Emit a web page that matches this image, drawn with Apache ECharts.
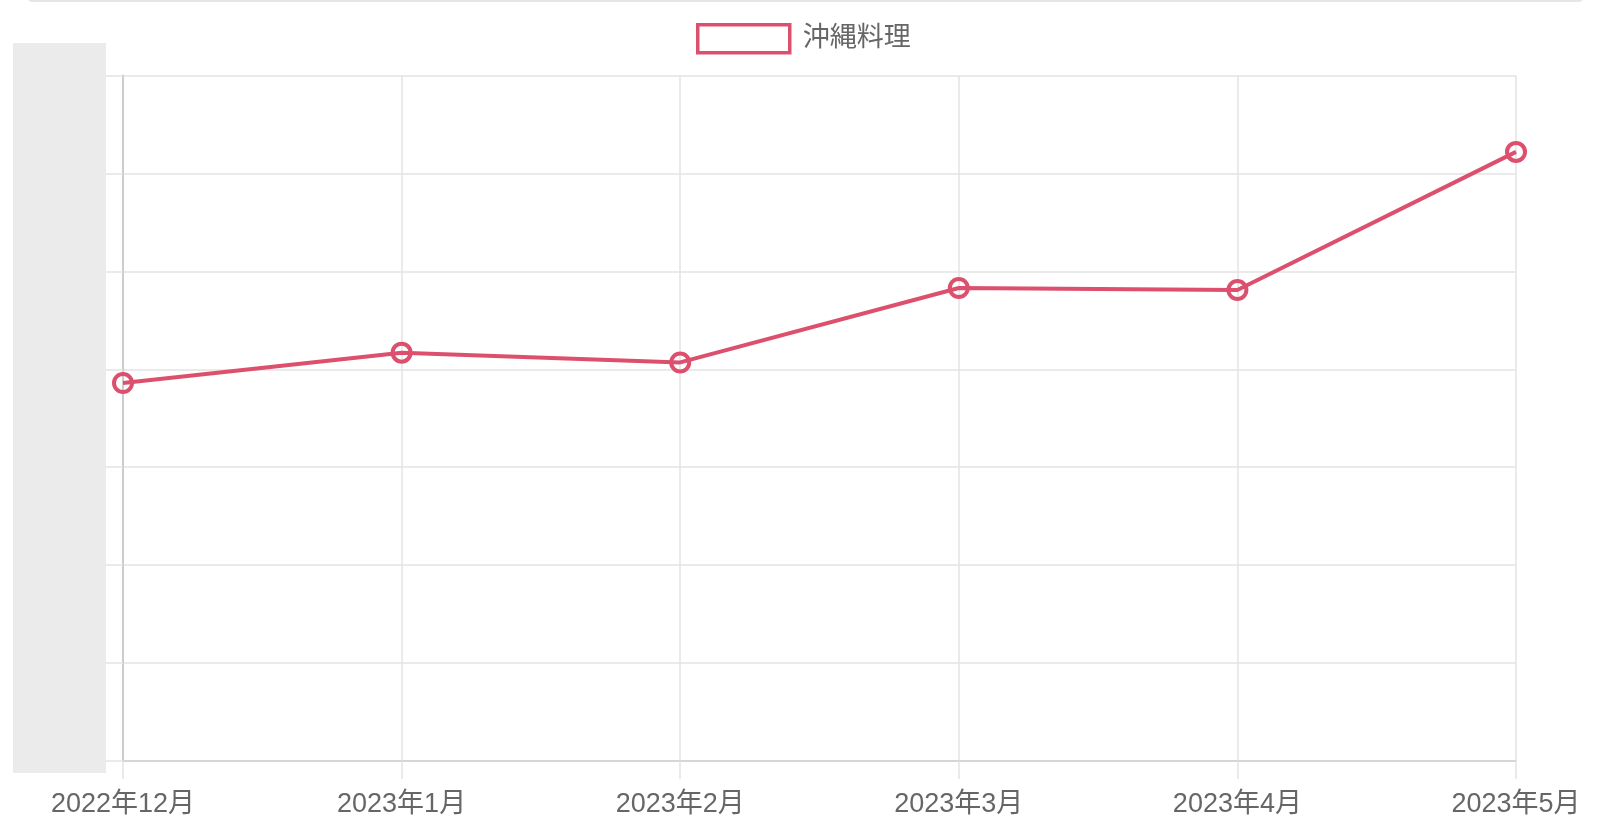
<!DOCTYPE html>
<html>
<head>
<meta charset="utf-8">
<script src="https://cdn.jsdelivr.net/npm/echarts@6/dist/echarts.min.js"></script>
<style>
html,body{margin:0;padding:0;background:#fff;}
#chart{width:1600px;height:829px;}
</style>
</head>
<body>
<div id="chart"></div>
<script>
const categories = ['2022年12月','2023年1月','2023年2月','2023年3月','2023年4月','2023年5月'];
const seriesName = '沖縄料理';
const values = [3.86, 4.17, 4.07, 4.83, 4.81, 6.22];
const yMin = 0, yMax = 7, yInterval = 1;

const lineColor = '#dc506e';
const fontFamily = "'Liberation Sans', 'Noto Sans CJK JP', sans-serif";

const chart = echarts.init(document.getElementById('chart'), null, {renderer:'canvas'});
chart.setOption({
  animation: false,
  backgroundColor: '#fff',
  legend: {
    left: 691, top: 18,
    itemWidth: 92, itemHeight: 28,
    itemGap: 10,
    data: [{
      name: seriesName,
      icon: 'rect',
      itemStyle: {color: '#fff', borderColor: lineColor, borderWidth: 3.5}
    }],
    textStyle: {fontSize: 27, color: '#666', fontFamily: fontFamily, padding: [0,0,0,8]}
  },
  grid: {left: 123, right: 84, top: 75.5, bottom: 68, containLabel: false},
  xAxis: {
    type: 'category',
    data: categories,
    boundaryGap: false,
    axisLine: {show: true, lineStyle: {color: '#d0d0d0', width: 1.5}},
    axisTick: {show: true, alignWithLabel: true, length: 18, lineStyle: {color: '#e3e3e3', width: 1.5}},
    splitLine: {show: true, lineStyle: {color: '#e3e3e3', width: 1.5}},
    axisLabel: {fontSize: 27, color: '#666', fontFamily: fontFamily, margin: 30, showMinLabel: true, showMaxLabel: true, interval: 0}
  },
  yAxis: {
    type: 'value',
    min: yMin, max: yMax, interval: yInterval,
    axisLine: {show: true, lineStyle: {color: '#cccccc', width: 2}},
    axisTick: {show: true, length: 18, lineStyle: {color: '#e3e3e3', width: 1.5}},
    splitLine: {show: true, lineStyle: {color: '#e3e3e3', width: 1.5}},
    axisLabel: {show: false}
  },
  series: [{
    name: seriesName,
    type: 'line',
    data: values,
    lineStyle: {color: lineColor, width: 4},
    symbol: 'circle',
    symbolSize: 18,
    itemStyle: {color: 'rgba(255,255,255,0)', borderColor: lineColor, borderWidth: 4},
    z: 5
  }],
  graphic: [
    {type: 'rect', left: 13, top: 43, shape: {width: 93, height: 730}, style: {fill: '#ebebeb'}, z: 100},
    {type: 'rect', left: 28, top: -6, shape: {width: 1555, height: 8, r: 4}, style: {fill: '#e6e6ea'}, z: 100}
  ]
});
</script>
</body>
</html>
